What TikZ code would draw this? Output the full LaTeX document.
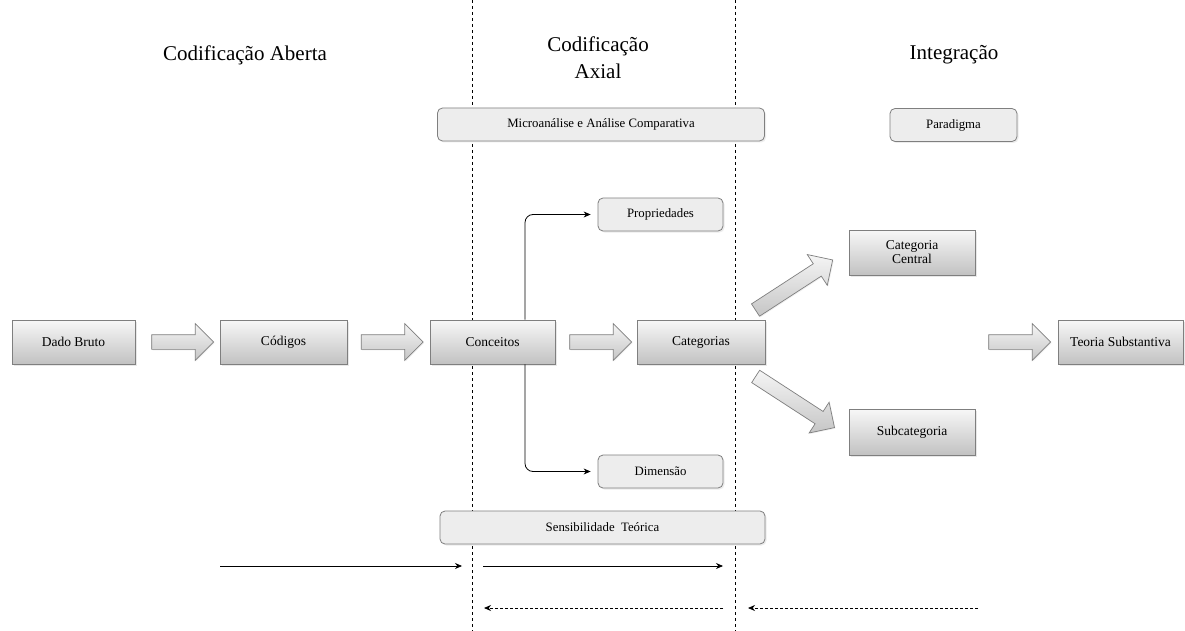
\documentclass[tikz,border=0pt]{standalone}
\usepackage{fontspec}
\setmainfont{Liberation Serif}
\usetikzlibrary{shapes.arrows,arrows.meta,shadows,calc}
\definecolor{bordergray}{HTML}{7F7F7F}
\definecolor{roundfill}{HTML}{EDEDED}
\tikzset{
  gbox/.style={draw=bordergray, line width=0.8pt, top color=gray!6, bottom color=gray!48,
    minimum height=44pt, inner sep=2pt, align=center, font=\fontsize{13.5}{14}\selectfont,
    drop shadow={opacity=0.18, shadow xshift=2pt, shadow yshift=-2pt}},
  rbox/.style={draw=bordergray, line width=0.8pt, fill=roundfill, rounded corners=5pt,
    minimum height=33pt, inner sep=2pt, align=center, font=\fontsize{12.8}{14}\selectfont,
    drop shadow={opacity=0.15, shadow xshift=1.5pt, shadow yshift=-1.5pt}},
  blockarrow/.style={single arrow, draw=bordergray, line width=0.7pt, top color=gray!8, bottom color=gray!45,
    minimum height=62pt, inner sep=7pt, single arrow head extend=11pt, single arrow tip angle=90,
    drop shadow={opacity=0.12, shadow xshift=1pt, shadow yshift=-1pt}},
  divider/.style={dashed, line width=0.6pt, black},
  flow/.style={-{Stealth[length=7pt,width=6pt]}, line width=0.8pt},
  dflow/.style={-{Stealth[length=7pt,width=6pt]}, line width=0.8pt, dash pattern=on 3pt off 2pt},
  title/.style={font=\fontsize{21}{27}\selectfont, align=center}
}
\begin{document}
\begin{tikzpicture}[x=1pt,y=-1pt]
\useasboundingbox (0,0) rectangle (1185,631);
\fill[white] (0,0) rectangle (1185,631);

% dividers
\coordinate (d1t) at (472,0); \coordinate (d1b) at (472,631);
\coordinate (d2t) at (735,0); \coordinate (d2b) at (735,631);
\draw[divider] (d1t) -- (d1b);
\draw[divider] (d2t) -- (d2b);

% titles
\node[title] (t1) at (245,55) {Codificação Aberta};
\node[title] (t2) at (598,58) {Codificação\\Axial};
\node[title] (t3) at (954,55) {Integração};

% rounded boxes
\node[rbox, minimum width=327pt] (micro) at (601,124.5) {Microanálise e Análise Comparativa};
\node[rbox, minimum width=127pt] (para) at (953.5,125) {Paradigma};
\node[rbox, minimum width=125pt] (prop) at (660.5,214.5) {Propriedades};
\node[rbox, minimum width=125pt] (dim) at (660.5,471.5) {Dimensão};
\node[rbox, minimum width=325pt] (sens) at (602.5,527.5) {Sensibilidade\ \ Teórica};

% gradient boxes
\node[gbox, minimum width=123pt] (dado) at (73.5,342) {Dado Bruto};
\node[gbox, minimum width=127pt] (cod) at (283.5,342) {Códigos};
\node[gbox, minimum width=125pt] (conc) at (492.5,342) {Conceitos};
\node[gbox, minimum width=128pt] (cat) at (701,342) {Categorias};
\node[gbox, minimum width=126pt, minimum height=45pt] (central) at (912,252.5) {Categoria\\Central};
\node[gbox, minimum width=126pt, minimum height=46pt] (sub) at (912,432) {Subcategoria};
\node[gbox, minimum width=125pt] (teoria) at (1120.5,342) {Teoria Substantiva};

% block arrows
\node[blockarrow] (a1) at (179,342) {};
\node[blockarrow] (a2) at (388.5,342) {};
\node[blockarrow] (a3) at (597,342) {};
\node[blockarrow] (a4) at (1016,342) {};
\node[blockarrow, minimum height=92pt, rotate=33] (a5) at (791,287) {};
\node[blockarrow, minimum height=94pt, rotate=-33] (a6) at (792,400) {};

% connectors to properties / dimension
\draw[flow, rounded corners=8pt, shorten >=7pt] ($(conc.north)+(32.5,0)$) |- (prop.west);
\draw[flow, rounded corners=8pt, shorten >=7pt] ($(conc.south)+(32.5,0)$) |- (dim.west);

% bottom arrows
\coordinate (s1a) at (220,566); \coordinate (s1b) at (462,566);
\coordinate (s2a) at (483,566); \coordinate (s2b) at (723,566);
\coordinate (r1a) at (723,608); \coordinate (r1b) at (484,608);
\coordinate (r2a) at (978,608); \coordinate (r2b) at (748,608);
\draw[flow] (s1a) -- (s1b);
\draw[flow] (s2a) -- (s2b);
\draw[dflow] (r1a) -- (r1b);
\draw[dflow] (r2a) -- (r2b);
\end{tikzpicture}
\end{document}
